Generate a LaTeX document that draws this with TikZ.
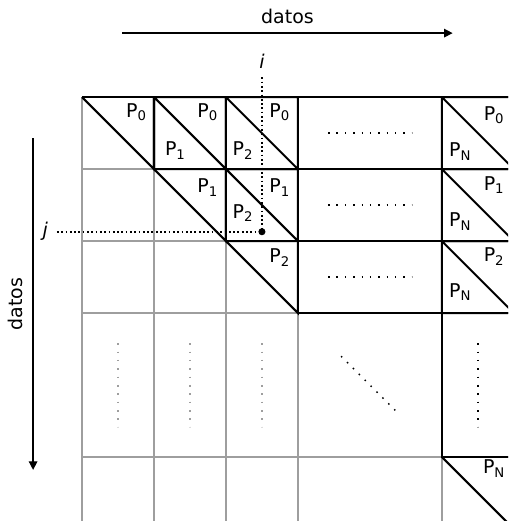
\documentclass[tikz,border=0pt]{standalone}
\usepackage{fontspec}
\setmainfont{DejaVu Sans}
\usepackage{tikz}
\usetikzlibrary{arrows.meta, positioning}

\definecolor{gridgray}{gray}{0.62}

\begin{document}
\begin{tikzpicture}[
  font=\fontsize{7.5}{9}\selectfont,
  celda/.style={line width=0.8pt, black},
  rejilla/.style={line width=0.7pt, gridgray},
  puntos/.style={dash pattern=on 0.6pt off 2.7pt, line width=0.6pt},
  eje/.style={line width=0.5pt, -{Triangle[length=1.2mm,width=1.2mm]}}
]
  \clip (-1.14,1.35) rectangle (5.92,-5.89);

  % Rejilla de fondo
  \foreach \x in {0,1,2,3,5,6} \draw[rejilla] (\x,0) -- (\x,-6);
  \foreach \y in {-1,-2,-3,-5,-6} \draw[rejilla] (0,\y) -- (6,\y);

  % Bloques de la fila 0
  \draw[celda] (0,0) -- (6,0);
  \draw[celda] (0,0) -- (1,-1) -- (1,0);
  \draw[celda] (1,0) rectangle (2,-1) (1,0) -- (2,-1);
  \draw[celda] (2,0) rectangle (3,-1) (2,0) -- (3,-1);
  \draw[celda] (3,0) rectangle (5,-1);
  \draw[celda] (5,0) rectangle (6,-1) (5,0) -- (6,-1);

  % Fila 1
  \draw[celda] (1,-1) -- (2,-2) -- (2,-1);
  \draw[celda] (2,-1) rectangle (3,-2) (2,-1) -- (3,-2);
  \draw[celda] (3,-1) rectangle (5,-2);
  \draw[celda] (5,-1) rectangle (6,-2) (5,-1) -- (6,-2);

  % Fila 2
  \draw[celda] (2,-2) -- (3,-3) -- (3,-2);
  \draw[celda] (3,-2) rectangle (5,-3);
  \draw[celda] (5,-2) rectangle (6,-3) (5,-2) -- (6,-3);

  % Filas intermedias y ultima fila
  \draw[celda] (5,-3) rectangle (6,-5);
  \draw[celda] (5,-5) -- (6,-6);

  % Puntos suspensivos
  \foreach \y in {-0.5,-1.5,-2.5} \draw[puntos] (3.42,\y) -- (4.58,\y);
  \foreach \x in {0.5,1.5,2.5} \draw[puntos, gridgray] (\x,-3.42) -- (\x,-4.58);
  \draw[puntos] (5.5,-3.42) -- (5.5,-4.58);
  \draw[puntos] (3.6,-3.6) -- (4.4,-4.4);

  % Etiquetas de los bloques
  \node (a00) at (0.76,-0.21) {P\textsubscript{0}};
  \node (a01) at (1.75,-0.21) {P\textsubscript{0}};
  \node (a02) at (2.75,-0.21) {P\textsubscript{0}};
  \node (a0n) at (5.73,-0.25) {P\textsubscript{0}};
  \node (b01) at (1.3,-0.74) {P\textsubscript{1}};
  \node (b02) at (2.24,-0.74) {P\textsubscript{2}};
  \node (b0n) at (5.26,-0.76) {P\textsubscript{N}};

  \node (a11) at (1.75,-1.26) {P\textsubscript{1}};
  \node (a12) at (2.75,-1.26) {P\textsubscript{1}};
  \node (a1n) at (5.73,-1.22) {P\textsubscript{1}};
  \node (b12) at (2.24,-1.61) {P\textsubscript{2}};
  \node (b1n) at (5.26,-1.73) {P\textsubscript{N}};

  \node (a22) at (2.75,-2.23) {P\textsubscript{2}};
  \node (a2n) at (5.73,-2.22) {P\textsubscript{2}};
  \node (b2n) at (5.26,-2.71) {P\textsubscript{N}};

  \node (ann) at (5.73,-5.16) {P\textsubscript{N}};

  % Elemento (i,j)
  \node (i) at (2.5,0.5) {\textit{i}};
  \node (j) at (-0.51,-1.87) {\textit{j}};
  \coordinate (ij) at (2.5,-1.87);
  \draw[densely dotted, line width=0.7pt] (i) -- (ij);
  \draw[densely dotted, line width=0.7pt] (j) -- (ij);
  \fill (ij) circle (1.4pt);

  % Ejes
  \draw[eje] (0.56,0.89) -- node[above] (dx) {datos} (5.15,0.89);
  \draw[eje] (-0.68,-0.57) -- (-0.68,-5.18);
  \node[rotate=90, anchor=south] (dy) at (-0.7,-2.875) {datos};
\end{tikzpicture}
\end{document}
